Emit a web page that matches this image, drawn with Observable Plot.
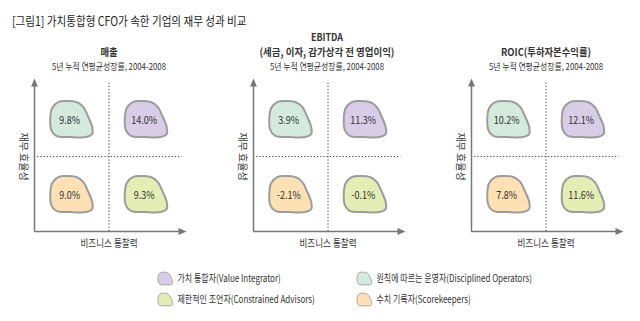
<!DOCTYPE html>
<html><head><meta charset="utf-8">
<script src="https://cdn.jsdelivr.net/npm/d3@7"></script>
<script src="https://cdn.jsdelivr.net/npm/@observablehq/plot@0.6"></script>
<style>
body{margin:0;background:#fff;}
#root{position:relative;width:640px;height:321px;overflow:hidden;font-family:'Noto Sans CJK KR',sans-serif;color:#222;background:#fff;}
.t{position:absolute;white-space:nowrap;line-height:1;}
.abs{position:absolute;}
</style></head><body><div id="root"></div>
<script>
// ---- data ----
const chartTitle = "[그림1] 가치통합형 CFO가 속한 기업의 재무 성과 비교";
const metricTitles = [["매출"], ["EBITDA", "(세금, 이자, 감가상각 전 영업이익)"], ["ROIC(투하자본수익률)"]];
const metricSubtitles = ["5년 누적 연평균성장률, 2004-2008", "5년 누적 연평균성장률, 2004-2008", "5년 누적 연평균성장률, 2004-2008"];
const xAxisLabel = "비즈니스 통찰력";
const yAxisLabel = "재무 효율성";
const groupKeys = ["Value Integrator", "Disciplined Operators", "Constrained Advisors", "Scorekeepers"];
const groupLabels = ["가치 통합자(Value Integrator)", "원칙에 따르는 운영자(Disciplined Operators)", "제한적인 조언자(Constrained Advisors)", "수치 기록자(Scorekeepers)"];
const insightLevel = [1, 0, 1, 0];     // 비즈니스 통찰력: 0 = 낮음, 1 = 높음
const efficiencyLevel = [1, 1, 0, 0];  // 재무 효율성: 0 = 낮음, 1 = 높음
// values per metric: 매출, EBITDA, ROIC (%)
const valueIntegrator = [14.0, 11.3, 12.1];
const disciplinedOperators = [9.8, 3.9, 10.2];
const constrainedAdvisors = [9.3, -0.1, 11.6];
const scorekeepers = [9.0, -2.1, 7.8];
const series = [valueIntegrator, disciplinedOperators, constrainedAdvisors, scorekeepers];
const groupColors = ["#d8cce6", "#d3eadd", "#e4edb4", "#fde0b4"];
const legendCol = [0, 1, 0, 1];
const legendRow = [0, 0, 1, 1];

// ---- symbols ----
const blobPts = [[-0.26,-1],[0.21,-0.94],[0.53,-0.67],[0.77,-0.11],[0.95,0.44],[0.95,0.83],[0.67,1.0],[-0.07,1.0],[-0.72,0.94],[-0.95,0.61],[-1,0],[-0.91,-0.61],[-0.63,-0.94]];
const blob = {
  draw(context, size) {
    const r = Math.sqrt(size / Math.PI);
    d3.line().curve(d3.curveCatmullRomClosed.alpha(0.5)).context(context)(blobPts.map(([a, b]) => [a * r, b * r * 0.84]));
  }
};
const arrowHead = {
  draw(context, size) {
    const r = Math.sqrt(size / Math.PI);
    context.moveTo(0, 0); context.lineTo(-r * 0.85, r * 2); context.lineTo(r * 0.85, r * 2); context.closePath();
  }
};

const root = document.getElementById("root");
function addText(str, x, cy, size, sx, weight, anchor, color) {
  const d = document.createElement("div");
  d.className = "t"; d.textContent = str;
  d.style.fontSize = size + "px"; d.style.fontWeight = weight || "normal";
  d.style.left = x + "px"; d.style.top = cy + "px"; d.style.color = color || "#222";
  const tx = anchor === "start" ? "0" : "-50%";
  d.style.transformOrigin = anchor === "start" ? "left center" : "center center";
  d.style.transform = `translate(${tx},-50%) scaleX(${sx})`;
  root.appendChild(d);
}
function condense(svg, fn) {
  svg.querySelectorAll("text").forEach(t => {
    const s = fn(t.textContent);
    if (s !== 1) t.setAttribute("transform", (t.getAttribute("transform") || "") + ` scale(${s},1)`);
  });
}

addText(chartTitle, 12, 21, 12.5, 0.845, "normal", "start", "#222");

const PW = 218.5, ML = 30, MR = 36, MT = 8, MB = 24, H = 185, TOP = 70, XMAX = 2.04;
metricTitles.forEach((titles, i) => {
  const left = 4 + PW * i;
  const cx = left + ML + (218 - ML - MR) / XMAX;
  if (titles.length === 2) {
    addText(titles[0], cx, 36.5, 10.5, 0.85, "bold", "middle", "#333");
    addText(titles[1], cx, 51.5, 10.5, 0.9, "bold", "middle", "#333");
  } else {
    addText(titles[0], cx, 51.5, 10.5, 0.89, "bold", "middle", "#333");
  }
  addText(metricSubtitles[i], cx, 66, 9, 0.87, "normal", "middle", "#333");

  const rows = groupKeys.map((g, j) => ({group: g, x: insightLevel[j] + 0.5, y: efficiencyLevel[j] + 0.5, value: series[j][i]}));
  const ends = [{x: XMAX, y: 0, a: 90}, {x: 0, y: XMAX, a: 0}];
  const svg = Plot.plot({
    width: 218, height: H, marginLeft: ML, marginRight: MR, marginTop: MT, marginBottom: MB,
    x: {domain: [0, XMAX], axis: null},
    y: {domain: [0, XMAX], axis: null},
    color: {domain: groupKeys, range: groupColors},
    style: {fontFamily: "'Noto Sans CJK KR', sans-serif", background: "transparent", overflow: "visible"},
    marks: [
      Plot.ruleX([1], {y1: 0, y2: 1.98, stroke: "#444", strokeWidth: 1, strokeDasharray: "1.2,2"}),
      Plot.ruleY([1], {x1: 0, x2: 1.98, stroke: "#444", strokeWidth: 1, strokeDasharray: "1.2,2"}),
      Plot.ruleY([0], {x1: 0, x2: 2.0, stroke: "#777", strokeWidth: 1.5}),
      Plot.ruleX([0], {y1: 0, y2: 2.0, stroke: "#777", strokeWidth: 1.5}),
      Plot.dot(ends, {x: "x", y: "y", rotate: "a", symbol: arrowHead, r: 4, fill: "#777", stroke: "none"}),
      Plot.dot(rows, {x: "x", y: "y", symbol: blob, r: 21.5, fill: "group", stroke: "#9c9c9c", strokeWidth: 2}),
      Plot.text(rows, {x: "x", y: "y", text: d => d.value.toFixed(1) + "%", fontSize: 11, fill: "#333", dx: -2, dy: 1}),
      Plot.text([xAxisLabel], {x: 1, y: 0, dy: 12, fontSize: 10, fill: "#333"}),
      Plot.text([yAxisLabel], {x: 0, y: 1, dx: -11, rotate: 90, fontSize: 10, fill: "#333"})
    ]
  });
  condense(svg, s => s.endsWith("%") ? 0.82 : s === xAxisLabel ? 0.86 : 1);
  svg.classList.add("abs");
  svg.style.left = left + "px"; svg.style.top = TOP + "px";
  root.appendChild(svg);
});

// ---- legend ----
const legendRows = groupKeys.map((g, j) => ({group: g, label: groupLabels[j], col: legendCol[j], row: legendRow[j]}));
const legend = Plot.plot({
  width: 640, height: 50, margin: 0,
  x: {domain: [0, 1], range: [165, 364], axis: null},
  y: {domain: [0, 1], range: [14, 35], axis: null},
  color: {domain: groupKeys, range: groupColors},
  style: {fontFamily: "'Noto Sans CJK KR', sans-serif", background: "transparent"},
  marks: [
    Plot.dot(legendRows, {x: "col", y: "row", symbol: blob, r: 7.5, fill: "group", stroke: "#a8a8a8", strokeWidth: 1}),
    Plot.text(legendRows, {x: "col", y: "row", text: "label", dx: 12, textAnchor: "start", fontSize: 10, fill: "#333"})
  ]
});
condense(legend, () => 0.8);
legend.classList.add("abs");
legend.style.left = "0px"; legend.style.top = "264px";
root.appendChild(legend);
</script></body></html>
